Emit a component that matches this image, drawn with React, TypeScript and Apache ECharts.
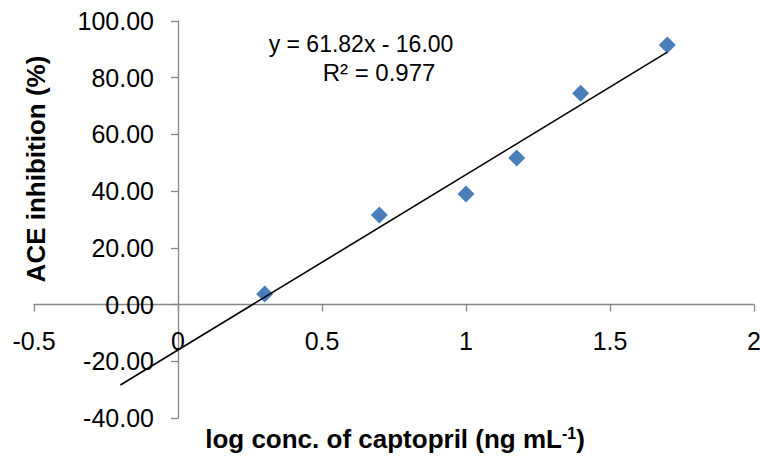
import React, { useEffect, useRef } from "react";
import * as echarts from "echarts";

const xValues = [0.301, 0.699, 1.0, 1.176, 1.398, 1.699];
const yValues = [3.7, 31.6, 39.0, 51.7, 74.5, 91.5];
const trendSlope = 61.82;
const trendIntercept = -16.0;
const trendRange = [-0.2, 1.699];
const equationText = "y = 61.82x - 16.00";
const r2Text = "R\u00B2 = 0.977";
const xTitle = "log conc. of captopril (ng mL";
const yTitle = "ACE inhibition (%)";

const X_MIN = -0.5;
const X_MAX = 2;
const Y_MIN = -40;
const Y_MAX = 100;

const FONT = '"Liberation Sans", Arial, sans-serif';

const GRID = { left: 34, right: 6, top: 21, bottom: 39 };
const W = 760;
const H = 457;

export default function App() {
  const ref = useRef<HTMLDivElement>(null);
  useEffect(() => {
    if (!ref.current) return;
    const chart = echarts.init(ref.current, null, { renderer: "svg" });
    const points = xValues.map((x, i) => [x, yValues[i]]);
    const trend = trendRange.map((x) => [x, trendSlope * x + trendIntercept]);
    const gw = W - GRID.left - GRID.right;
    const gh = H - GRID.top - GRID.bottom;
    const yAxisShift = ((0 - X_MIN) / (X_MAX - X_MIN)) * gw;
    const xAxisShift = ((0 - Y_MIN) / (Y_MAX - Y_MIN)) * gh;
    chart.setOption({
      animation: false,
      backgroundColor: "#ffffff",
      textStyle: { fontFamily: FONT },
      grid: { ...GRID, containLabel: false, outerBoundsMode: "none" },
      xAxis: {
        type: "value",
        min: X_MIN,
        max: X_MAX,
        interval: 0.5,
        position: "bottom",
        offset: -xAxisShift,
        axisLine: { onZero: false, lineStyle: { color: "#868686", width: 1.3 } },
        axisTick: { show: true, length: 7, inside: false, lineStyle: { color: "#868686", width: 1.3 } },
        axisLabel: {
          margin: 24,
          fontSize: 25,
          color: "#000",
          fontFamily: FONT,
          showMinLabel: true,
          showMaxLabel: true,
          hideOverlap: false,
          formatter: (v: number) => String(v),
        },
        splitLine: { show: false },
      },
      yAxis: {
        type: "value",
        min: Y_MIN,
        max: Y_MAX,
        interval: 20,
        position: "left",
        offset: -yAxisShift,
        axisLine: { show: true, onZero: false, lineStyle: { color: "#868686", width: 1.3 } },
        axisTick: { show: true, length: 7, inside: false, lineStyle: { color: "#868686", width: 1.3 } },
        axisLabel: {
          margin: 24,
          fontSize: 25,
          color: "#000",
          fontFamily: FONT,
          showMinLabel: true,
          showMaxLabel: true,
          hideOverlap: false,
          formatter: (v: number) => v.toFixed(2),
        },
        splitLine: { show: false },
      },
      series: [
        {
          type: "line",
          data: trend,
          symbol: "none",
          lineStyle: { color: "#000", width: 1.6 },
          z: 3,
        },
        {
          type: "scatter",
          data: points,
          symbol: "diamond",
          symbolSize: [17, 17],
          itemStyle: { color: "#4A7EBB", opacity: 1 },
          z: 2,
        },
      ],
      graphic: [
        {
          type: "text",
          x: 361,
          y: 44,
          style: {
            text: equationText,
            font: `23px ${FONT}`,
            fill: "#000",
            textAlign: "center",
            textVerticalAlign: "middle",
          },
        },
        {
          type: "text",
          x: 379,
          y: 72,
          style: {
            text: r2Text,
            font: `24px ${FONT}`,
            fill: "#000",
            textAlign: "center",
            textVerticalAlign: "middle",
          },
        },
        {
          type: "text",
          x: 395,
          y: 439,
          style: {
            text: "{a|" + xTitle + "}{s|-1}{a|)}",
            textAlign: "center",
            textVerticalAlign: "middle",
            rich: {
              a: { fontSize: 26, fontWeight: "bold", fontFamily: FONT, color: "#000" },
              s: {
                fontSize: 16,
                fontWeight: "bold",
                fontFamily: FONT,
                color: "#000",
                padding: [0, 0, 12, 0],
              },
            },
          },
        },
        {
          type: "text",
          x: 36,
          y: 169,
          rotation: Math.PI / 2,
          style: {
            text: yTitle,
            font: `bold 26px ${FONT}`,
            fill: "#000",
            textAlign: "center",
            textVerticalAlign: "middle",
          },
        },
      ],
    });
    return () => chart.dispose();
  }, []);
  return (
    <div
      ref={ref}
      style={{ position: "fixed", left: 0, top: 0, width: W, height: H }}
    />
  );
}
